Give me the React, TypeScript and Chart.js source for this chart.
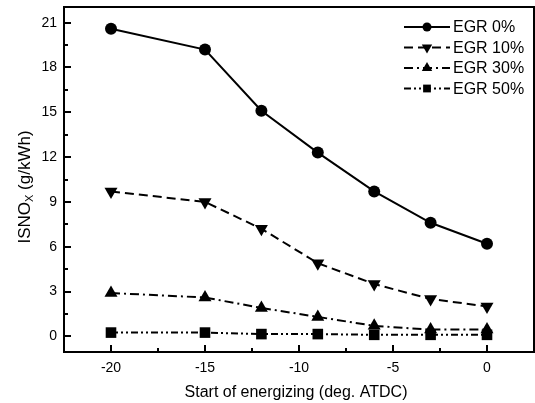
import React, { useEffect, useRef } from "react";
import { Chart, registerables } from "chart.js";

Chart.register(...registerables);

// ---- data ----
const xValues = [-20, -15, -12, -9, -6, -3, 0];
const egr0 = [20.6, 19.2, 15.1, 12.3, 9.7, 7.6, 6.2];
const egr10 = [9.7, 9.0, 7.2, 4.9, 3.5, 2.5, 2.0];
const egr30 = [2.9, 2.6, 1.9, 1.3, 0.7, 0.45, 0.45];
const egr50 = [0.25, 0.25, 0.15, 0.15, 0.1, 0.1, 0.1];
const seriesLabels = ["EGR 0%", "EGR 10%", "EGR 30%", "EGR 50%"];
const xTicks = [-20, -15, -10, -5, 0];
const xMinorTicks = [-17.5, -12.5, -7.5, -2.5];
const yTicks = [0, 3, 6, 9, 12, 15, 18, 21];
const yMinorTicks = [1.5, 4.5, 7.5, 10.5, 13.5, 16.5, 19.5];
const xTitle = "Start of energizing (deg. ATDC)";
const yTitleMain = "ISNO";
const yTitleSub = "X";
const yTitleRest = " (g/kWh)";

const FONT = "'Liberation Sans', Arial, Helvetica, sans-serif";

const styles = [
  { dash: [], pointStyle: "circle", radius: 6, rotation: 0, legendRadius: 4.5 },
  { dash: [9, 5], pointStyle: "triangle", radius: 7.5, rotation: 180, legendRadius: 6 },
  { dash: [9, 4, 2, 4], pointStyle: "triangle", radius: 7.5, rotation: 0, legendRadius: 6 },
  { dash: [7, 3, 2, 3, 2, 3], pointStyle: "rect", radius: 7.5, rotation: 0, legendRadius: 5.5 },
];

const seriesValues = [egr0, egr10, egr30, egr50];

function drawMarker(ctx: CanvasRenderingContext2D, style: string, r: number, rot: number, x: number, y: number) {
  ctx.beginPath();
  if (style === "circle") {
    ctx.arc(x, y, r, 0, Math.PI * 2);
  } else if (style === "triangle") {
    const rad = (rot * Math.PI) / 180;
    for (let k = 0; k < 3; k++) {
      const ang = rad - Math.PI / 2 + (k * 2 * Math.PI) / 3;
      const px = x + Math.cos(ang) * r;
      const py = y + Math.sin(ang) * r;
      if (k === 0) ctx.moveTo(px, py);
      else ctx.lineTo(px, py);
    }
    ctx.closePath();
  } else {
    const s = r * Math.SQRT1_2;
    ctx.rect(x - s, y - s, 2 * s, 2 * s);
  }
  ctx.fill();
}

const decorPlugin = {
  id: "decor",
  afterDraw(chart: any) {
    const { ctx, chartArea: a } = chart;
    const xs = chart.scales.x;
    const ys = chart.scales.y;
    ctx.save();
    ctx.strokeStyle = "#000";
    ctx.lineWidth = 2;
    ctx.setLineDash([]);
    ctx.strokeRect(a.left, a.top, a.right - a.left, a.bottom - a.top);

    ctx.beginPath();
    for (const v of xTicks) {
      const p = Math.round(xs.getPixelForValue(v));
      ctx.moveTo(p, a.bottom);
      ctx.lineTo(p, a.bottom - 7);
    }
    for (const v of xMinorTicks) {
      const p = Math.round(xs.getPixelForValue(v));
      ctx.moveTo(p, a.bottom);
      ctx.lineTo(p, a.bottom - 4);
    }
    for (const v of yTicks) {
      const p = Math.round(ys.getPixelForValue(v));
      ctx.moveTo(a.left, p);
      ctx.lineTo(a.left + 7, p);
    }
    for (const v of yMinorTicks) {
      const p = Math.round(ys.getPixelForValue(v));
      ctx.moveTo(a.left, p);
      ctx.lineTo(a.left + 4, p);
    }
    ctx.stroke();

    // x title
    ctx.fillStyle = "#000";
    ctx.font = `16px ${FONT}`;
    ctx.textAlign = "center";
    ctx.textBaseline = "alphabetic";
    ctx.fillText(xTitle, 296, 397);

    // y title with subscript
    ctx.save();
    ctx.translate(29.5, 187);
    ctx.rotate(-Math.PI / 2);
    ctx.textAlign = "left";
    ctx.font = `17px ${FONT}`;
    const w1 = ctx.measureText(yTitleMain).width;
    const w3 = ctx.measureText(yTitleRest).width;
    ctx.font = `11px ${FONT}`;
    const w2 = ctx.measureText(yTitleSub).width;
    let sx = -(w1 + w2 + w3) / 2;
    ctx.font = `17px ${FONT}`;
    ctx.fillText(yTitleMain, sx, 0);
    sx += w1;
    ctx.font = `11px ${FONT}`;
    ctx.fillText(yTitleSub, sx, 3.5);
    sx += w2;
    ctx.font = `17px ${FONT}`;
    ctx.fillText(yTitleRest, sx, 0);
    ctx.restore();

    // legend
    const rows = [27, 47.5, 68, 88.5];
    const lx0 = 404;
    const lx1 = 450;
    const mx = 427;
    seriesLabels.forEach((label, i) => {
      const st = styles[i];
      const yy = rows[i];
      ctx.strokeStyle = "#000";
      ctx.lineWidth = 2;
      ctx.setLineDash(st.dash);
      ctx.beginPath();
      ctx.moveTo(lx0, yy);
      ctx.lineTo(lx1, yy);
      ctx.stroke();
      ctx.setLineDash([]);
      ctx.fillStyle = "#000";
      drawMarker(ctx, st.pointStyle, st.legendRadius, st.rotation, mx, yy);
      ctx.font = `16px ${FONT}`;
      ctx.textAlign = "left";
      ctx.textBaseline = "middle";
      ctx.fillText(label, 453, yy + 1);
    });
    ctx.restore();
  },
};

export default function App() {
  const ref = useRef<HTMLCanvasElement | null>(null);

  useEffect(() => {
    document.body.style.margin = "0";
    const canvas = ref.current;
    if (!canvas) return;
    const datasets = seriesValues.map((vals, i) => ({
      label: seriesLabels[i],
      data: xValues.map((x, j) => ({ x, y: vals[j] })),
      borderColor: "#000",
      backgroundColor: "#000",
      borderWidth: 2,
      borderDash: styles[i].dash,
      pointStyle: styles[i].pointStyle as any,
      pointRotation: styles[i].rotation,
      pointRadius: styles[i].radius,
      pointBorderWidth: 0,
      pointBackgroundColor: "#000",
      tension: 0,
      fill: false,
    }));

    const chart = new Chart(canvas, {
      type: "line",
      data: { datasets },
      options: {
        animation: false,
        responsive: false,
        devicePixelRatio: 1,
        layout: { autoPadding: false, padding: { top: 7, right: 1, left: 0, bottom: 0 } },
        plugins: { legend: { display: false }, tooltip: { enabled: false } },
        scales: {
          x: {
            type: "linear",
            min: -22.5,
            max: 2.5,
            grid: { display: false, drawTicks: false },
            border: { display: false },
            afterBuildTicks: (s: any) => {
              s.ticks = xTicks.map((v) => ({ value: v }));
            },
            afterFit: (s: any) => {
              s.height = 51;
              s.paddingLeft = 0;
              s.paddingRight = 0;
              s.paddingTop = 0;
              s.paddingBottom = 0;
            },
            ticks: {
              color: "#000",
              font: { family: FONT, size: 14 },
              padding: 8,
              maxRotation: 0,
              autoSkip: false,
            },
          },
          y: {
            type: "linear",
            min: -1.05,
            max: 22.05,
            grid: { display: false, drawTicks: false },
            border: { display: false },
            afterBuildTicks: (s: any) => {
              s.ticks = yTicks.map((v) => ({ value: v }));
            },
            afterFit: (s: any) => {
              s.width = 64;
              s.paddingLeft = 0;
              s.paddingRight = 0;
              s.paddingTop = 0;
              s.paddingBottom = 0;
            },
            ticks: {
              color: "#000",
              font: { family: FONT, size: 14 },
              padding: 7,
              autoSkip: false,
            },
          },
        },
      },
      plugins: [decorPlugin],
    });
    return () => chart.destroy();
  }, []);

  return (
    <div style={{ width: 535, height: 403, background: "#fff" }}>
      <canvas ref={ref} width={535} height={403} style={{ display: "block" }} />
    </div>
  );
}
